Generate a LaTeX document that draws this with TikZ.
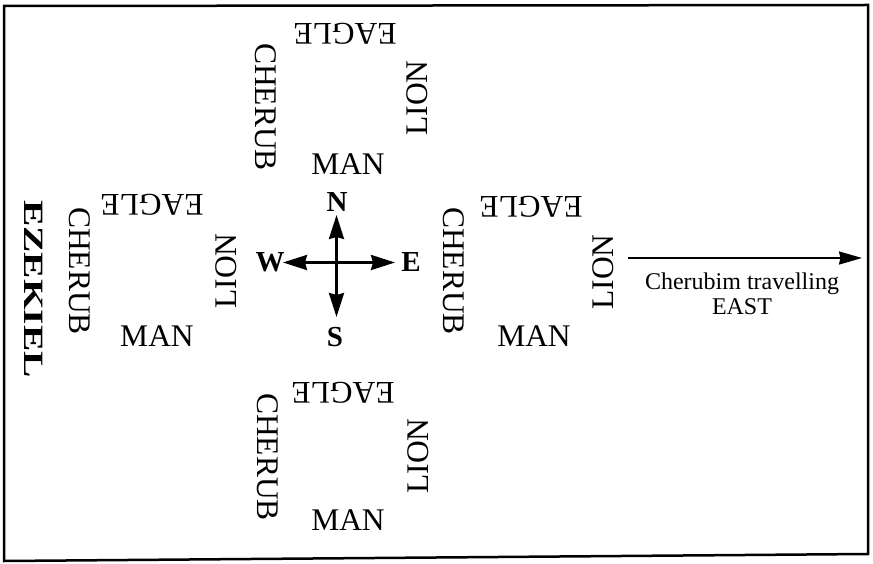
\documentclass[tikz,border=0pt]{standalone}
\usepackage{fontspec}
\setmainfont{Liberation Serif}
\usetikzlibrary{arrows.meta}
\tikzset{
  lbl/.style={font=\fontsize{31.5}{34}\selectfont, inner sep=0pt},
  lblflip/.style={lbl, rotate=180},
  lblcw/.style={lbl, rotate=-90},
  lblccw/.style={lbl, rotate=90},
  dirlbl/.style={font=\fontsize{29}{30}\selectfont\bfseries, inner sep=0pt},
  comparrow/.style={line width=2.6pt, -{Stealth[length=24pt,width=15pt,inset=2pt]}},
  bigarrow/.style={line width=2pt, -{Stealth[length=23pt,width=13pt,inset=1.5pt]}},
}
\begin{document}
\begin{tikzpicture}[x=1pt,y=1pt]
\useasboundingbox (0,0) rectangle (873,563);
\draw[line width=2.5pt, line join=miter] (4,2) -- (868,9) -- (868,558) -- (4,557) -- cycle;

% top group
\node[lblflip] (tE) at (345,529) {EAGLE};
\node[lblcw]   (tC) at (266,456) {CHERUB};
\node[lblccw]  (tL) at (417,465) {LION};
\node[lbl]     (tM) at (348,399) {MAN};
% left group
\node[lblflip] (lE) at (152,358) {EAGLE};
\node[lblcw]   (lC) at (80,292) {CHERUB};
\node[lblccw]  (lL) at (226,292) {LION};
\node[lbl]     (lM) at (157,227) {MAN};
% right group
\node[lblflip] (rE) at (531,356) {EAGLE};
\node[lblcw]   (rC) at (454,292) {CHERUB};
\node[lblccw]  (rL) at (603,291) {LION};
\node[lbl]     (rM) at (534,227) {MAN};
% bottom group
\node[lblflip] (bE) at (343,170) {EAGLE};
\node[lblcw]   (bC) at (268,106) {CHERUB};
\node[lblccw]  (bL) at (418,107) {LION};
\node[lbl]     (bM) at (348,43) {MAN};

% Ezekiel
\node[font=\fontsize{28}{30}\selectfont\bfseries, inner sep=0pt, rotate=-90] (ez) at (34,274)
  {\scalebox{1.41}[1]{EZEKIEL}};

% compass
\node[dirlbl] (N) at (337,361) {N};
\node[dirlbl] (W) at (270,301) {W};
\node[dirlbl] (E) at (411,301) {E};
\node[dirlbl] (S) at (335,226) {S};
\coordinate (c) at (336.5,300.5);
\coordinate (tipN) at (336.5,348);
\coordinate (tipS) at (336.5,246);
\coordinate (tipW) at (283,300.5);
\coordinate (tipE) at (395,300.5);
\draw[comparrow] (c) -- (tipN);
\draw[comparrow] (c) -- (tipS);
\draw[comparrow] (c) -- (tipW);
\draw[comparrow] (c) -- (tipE);

% travelling arrow
\coordinate (a0) at (628,305);
\coordinate (a1) at (862,305);
\draw[bigarrow] (a0) -- (a1);
\node[font=\fontsize{24}{25}\selectfont, inner sep=0pt, anchor=base] (t1) at (742,273) {Cherubim travelling};
\node[font=\fontsize{24}{25}\selectfont, inner sep=0pt, anchor=base] (t2) at (742,248) {EAST};
\end{tikzpicture}
\end{document}
